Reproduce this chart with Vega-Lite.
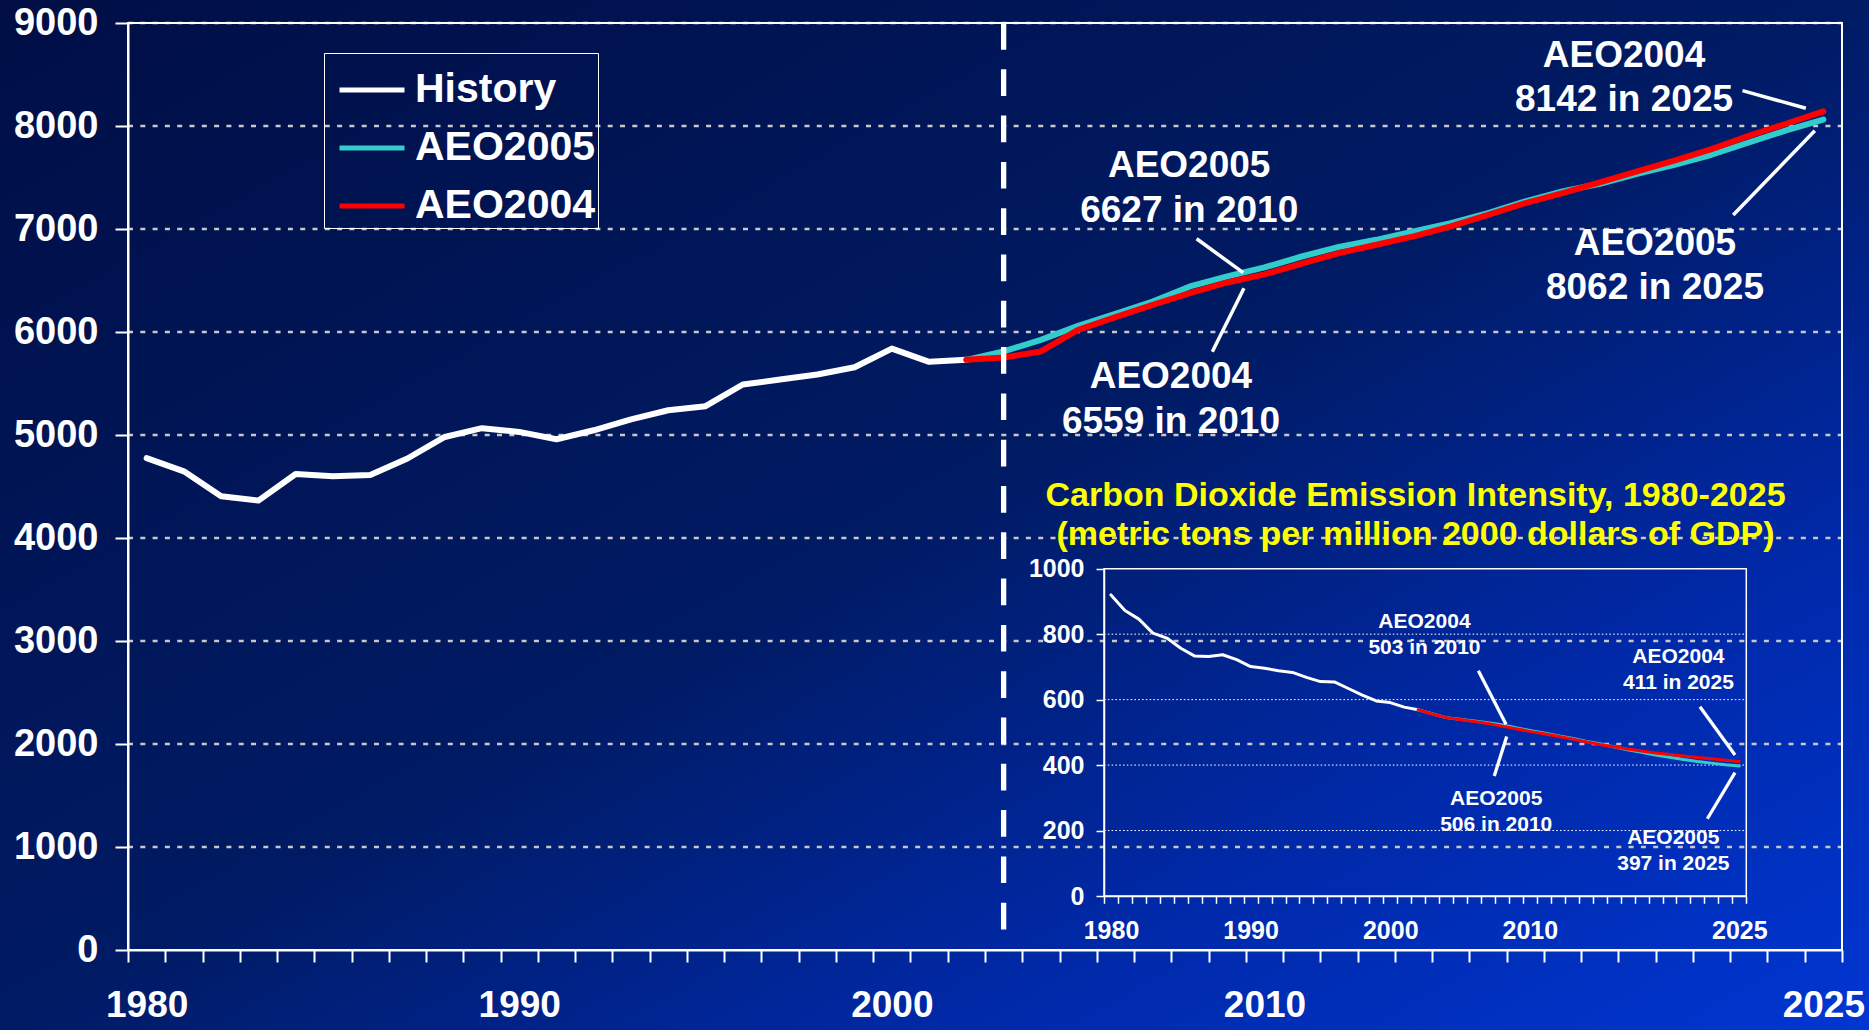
{
  "$schema": "https://vega.github.io/schema/vega-lite/v6.json",
  "width": 1714,
  "height": 927,
  "autosize": {"type": "none"},
  "padding": {"left": 128, "top": 23, "right": 27, "bottom": 80},
  "background": "#001A60",
  "config": {
    "view": {"stroke": null},
    "font": "Liberation Sans",
    "axis": {"zindex": 1, "labelFont": "Liberation Sans", "labelFontWeight": "bold", "labelColor": "#FFFFFF", "domainColor": "#FFFFFF", "tickColor": "#FFFFFF", "grid": false, "labelFlush": false, "labelOverlap": false, "labelBound": false}
  },
  "datasets": {
    "emissions": [
      {"year": 1980, "value": 4775, "series": "History"},
      {"year": 1981, "value": 4647, "series": "History"},
      {"year": 1982, "value": 4405, "series": "History"},
      {"year": 1983, "value": 4363, "series": "History"},
      {"year": 1984, "value": 4621, "series": "History"},
      {"year": 1985, "value": 4599, "series": "History"},
      {"year": 1986, "value": 4611, "series": "History"},
      {"year": 1987, "value": 4772, "series": "History"},
      {"year": 1988, "value": 4981, "series": "History"},
      {"year": 1989, "value": 5066, "series": "History"},
      {"year": 1990, "value": 5030, "series": "History"},
      {"year": 1991, "value": 4959, "series": "History"},
      {"year": 1992, "value": 5046, "series": "History"},
      {"year": 1993, "value": 5152, "series": "History"},
      {"year": 1994, "value": 5240, "series": "History"},
      {"year": 1995, "value": 5280, "series": "History"},
      {"year": 1996, "value": 5490, "series": "History"},
      {"year": 1997, "value": 5539, "series": "History"},
      {"year": 1998, "value": 5587, "series": "History"},
      {"year": 1999, "value": 5658, "series": "History"},
      {"year": 2000, "value": 5839, "series": "History"},
      {"year": 2001, "value": 5710, "series": "History"},
      {"year": 2002, "value": 5730, "series": "History"},
      {"year": 2002, "value": 5730, "series": "AEO2005"},
      {"year": 2003, "value": 5811, "series": "AEO2005"},
      {"year": 2004, "value": 5924, "series": "AEO2005"},
      {"year": 2005, "value": 6060, "series": "AEO2005"},
      {"year": 2006, "value": 6177, "series": "AEO2005"},
      {"year": 2007, "value": 6296, "series": "AEO2005"},
      {"year": 2008, "value": 6442, "series": "AEO2005"},
      {"year": 2009, "value": 6540, "series": "AEO2005"},
      {"year": 2010, "value": 6627, "series": "AEO2005"},
      {"year": 2011, "value": 6733, "series": "AEO2005"},
      {"year": 2012, "value": 6826, "series": "AEO2005"},
      {"year": 2013, "value": 6895, "series": "AEO2005"},
      {"year": 2014, "value": 6976, "series": "AEO2005"},
      {"year": 2015, "value": 7057, "series": "AEO2005"},
      {"year": 2016, "value": 7155, "series": "AEO2005"},
      {"year": 2017, "value": 7268, "series": "AEO2005"},
      {"year": 2018, "value": 7365, "series": "AEO2005"},
      {"year": 2019, "value": 7439, "series": "AEO2005"},
      {"year": 2020, "value": 7536, "series": "AEO2005"},
      {"year": 2021, "value": 7624, "series": "AEO2005"},
      {"year": 2022, "value": 7721, "series": "AEO2005"},
      {"year": 2023, "value": 7840, "series": "AEO2005"},
      {"year": 2024, "value": 7957, "series": "AEO2005"},
      {"year": 2025, "value": 8062, "series": "AEO2005"},
      {"year": 2002, "value": 5730, "series": "AEO2004"},
      {"year": 2003, "value": 5752, "series": "AEO2004"},
      {"year": 2004, "value": 5811, "series": "AEO2004"},
      {"year": 2005, "value": 6021, "series": "AEO2004"},
      {"year": 2006, "value": 6145, "series": "AEO2004"},
      {"year": 2007, "value": 6264, "series": "AEO2004"},
      {"year": 2008, "value": 6378, "series": "AEO2004"},
      {"year": 2009, "value": 6481, "series": "AEO2004"},
      {"year": 2010, "value": 6559, "series": "AEO2004"},
      {"year": 2011, "value": 6665, "series": "AEO2004"},
      {"year": 2012, "value": 6766, "series": "AEO2004"},
      {"year": 2013, "value": 6847, "series": "AEO2004"},
      {"year": 2014, "value": 6928, "series": "AEO2004"},
      {"year": 2015, "value": 7025, "series": "AEO2004"},
      {"year": 2016, "value": 7138, "series": "AEO2004"},
      {"year": 2017, "value": 7252, "series": "AEO2004"},
      {"year": 2018, "value": 7349, "series": "AEO2004"},
      {"year": 2019, "value": 7452, "series": "AEO2004"},
      {"year": 2020, "value": 7559, "series": "AEO2004"},
      {"year": 2021, "value": 7663, "series": "AEO2004"},
      {"year": 2022, "value": 7776, "series": "AEO2004"},
      {"year": 2023, "value": 7905, "series": "AEO2004"},
      {"year": 2024, "value": 8022, "series": "AEO2004"},
      {"year": 2025, "value": 8142, "series": "AEO2004"}
    ],
    "intensity": [
      {"year": 1980, "value": 920, "series": "History"},
      {"year": 1981, "value": 872, "series": "History"},
      {"year": 1982, "value": 846, "series": "History"},
      {"year": 1983, "value": 803, "series": "History"},
      {"year": 1984, "value": 788, "series": "History"},
      {"year": 1985, "value": 757, "series": "History"},
      {"year": 1986, "value": 733, "series": "History"},
      {"year": 1987, "value": 732, "series": "History"},
      {"year": 1988, "value": 737, "series": "History"},
      {"year": 1989, "value": 722, "series": "History"},
      {"year": 1990, "value": 701, "series": "History"},
      {"year": 1991, "value": 696, "series": "History"},
      {"year": 1992, "value": 688, "series": "History"},
      {"year": 1993, "value": 683, "series": "History"},
      {"year": 1994, "value": 668, "series": "History"},
      {"year": 1995, "value": 655, "series": "History"},
      {"year": 1996, "value": 654, "series": "History"},
      {"year": 1997, "value": 634, "series": "History"},
      {"year": 1998, "value": 614, "series": "History"},
      {"year": 1999, "value": 596, "series": "History"},
      {"year": 2000, "value": 591, "series": "History"},
      {"year": 2001, "value": 577, "series": "History"},
      {"year": 2002, "value": 569, "series": "History"},
      {"year": 2002, "value": 569, "series": "AEO2005"},
      {"year": 2003, "value": 557, "series": "AEO2005"},
      {"year": 2004, "value": 545, "series": "AEO2005"},
      {"year": 2005, "value": 540, "series": "AEO2005"},
      {"year": 2006, "value": 535, "series": "AEO2005"},
      {"year": 2007, "value": 529, "series": "AEO2005"},
      {"year": 2008, "value": 523, "series": "AEO2005"},
      {"year": 2009, "value": 514, "series": "AEO2005"},
      {"year": 2010, "value": 506, "series": "AEO2005"},
      {"year": 2011, "value": 498, "series": "AEO2005"},
      {"year": 2012, "value": 490, "series": "AEO2005"},
      {"year": 2013, "value": 482, "series": "AEO2005"},
      {"year": 2014, "value": 473, "series": "AEO2005"},
      {"year": 2015, "value": 465, "series": "AEO2005"},
      {"year": 2016, "value": 456, "series": "AEO2005"},
      {"year": 2017, "value": 447, "series": "AEO2005"},
      {"year": 2018, "value": 439, "series": "AEO2005"},
      {"year": 2019, "value": 431, "series": "AEO2005"},
      {"year": 2020, "value": 424, "series": "AEO2005"},
      {"year": 2021, "value": 417, "series": "AEO2005"},
      {"year": 2022, "value": 411, "series": "AEO2005"},
      {"year": 2023, "value": 406, "series": "AEO2005"},
      {"year": 2024, "value": 401, "series": "AEO2005"},
      {"year": 2025, "value": 397, "series": "AEO2005"},
      {"year": 2002, "value": 569, "series": "AEO2004"},
      {"year": 2003, "value": 556, "series": "AEO2004"},
      {"year": 2004, "value": 545, "series": "AEO2004"},
      {"year": 2005, "value": 539, "series": "AEO2004"},
      {"year": 2006, "value": 533, "series": "AEO2004"},
      {"year": 2007, "value": 527, "series": "AEO2004"},
      {"year": 2008, "value": 519, "series": "AEO2004"},
      {"year": 2009, "value": 511, "series": "AEO2004"},
      {"year": 2010, "value": 503, "series": "AEO2004"},
      {"year": 2011, "value": 496, "series": "AEO2004"},
      {"year": 2012, "value": 488, "series": "AEO2004"},
      {"year": 2013, "value": 480, "series": "AEO2004"},
      {"year": 2014, "value": 471, "series": "AEO2004"},
      {"year": 2015, "value": 463, "series": "AEO2004"},
      {"year": 2016, "value": 456, "series": "AEO2004"},
      {"year": 2017, "value": 449, "series": "AEO2004"},
      {"year": 2018, "value": 443, "series": "AEO2004"},
      {"year": 2019, "value": 437, "series": "AEO2004"},
      {"year": 2020, "value": 432, "series": "AEO2004"},
      {"year": 2021, "value": 428, "series": "AEO2004"},
      {"year": 2022, "value": 423, "series": "AEO2004"},
      {"year": 2023, "value": 419, "series": "AEO2004"},
      {"year": 2024, "value": 415, "series": "AEO2004"},
      {"year": 2025, "value": 411, "series": "AEO2004"}
    ],
    "mainLabels": [
      {"label": "AEO2004\n8142 in 2025", "year": 2019.65, "value": 8573},
      {"label": "AEO2005\n8062 in 2025", "year": 2020.48, "value": 6748},
      {"label": "AEO2005\n6627 in 2010", "year": 2007.98, "value": 7501},
      {"label": "AEO2004\n6559 in 2010", "year": 2007.49, "value": 5453}
    ],
    "mainLeaders": [
      {"year": 2022.83, "value": 8343, "year2": 2024.53, "value2": 8172},
      {"year": 2024.77, "value": 7954, "year2": 2022.58, "value2": 7136},
      {"year": 2008.18, "value": 6905, "year2": 2009.43, "value2": 6576},
      {"year": 2009.45, "value": 6424, "year2": 2008.6, "value2": 5809}
    ],
    "insetLabels": [
      {"label": "AEO2004\n503 in 2010", "year": 2002.45, "value": 818},
      {"label": "AEO2005\n506 in 2010", "year": 2007.59, "value": 278},
      {"label": "AEO2004\n411 in 2025", "year": 2020.64, "value": 713},
      {"label": "AEO2005\n397 in 2025", "year": 2020.27, "value": 159}
    ],
    "insetLeaders": [
      {"year": 2006.31, "value": 688, "year2": 2008.29, "value2": 525},
      {"year": 2008.34, "value": 487, "year2": 2007.45, "value2": 367},
      {"year": 2022.18, "value": 578, "year2": 2024.69, "value2": 431},
      {"year": 2024.69, "value": 377, "year2": 2022.71, "value2": 236}
    ],
    "mainGrid": [
      {"value": 1000}, {"value": 2000}, {"value": 3000}, {"value": 4000}, {"value": 5000},
      {"value": 6000}, {"value": 7000}, {"value": 8000}, {"value": 9000}
    ],
    "insetGrid": [
      {"value": 200}, {"value": 400}, {"value": 600}, {"value": 800}
    ]
  },
  "layer": [
    {
      "layer": [
        {
          "data": {"values": [{}]},
          "mark": {
            "type": "rect",
            "strokeWidth": 0,
            "fill": {
              "gradient": "linear",
              "x1": 0, "y1": 0, "x2": 1, "y2": 1,
              "stops": [
                {"offset": 0, "color": "#000E45"},
                {"offset": 0.5, "color": "#001B64"},
                {"offset": 0.75, "color": "#0029A8"},
                {"offset": 1, "color": "#0036D2"}
              ]
            }
          },
          "encoding": {
            "x": {"datum": 1975.98, "type": "quantitative"},
            "x2": {"datum": 2026.3},
            "y": {"datum": -806, "type": "quantitative"},
            "y2": {"datum": 9252}
          }
        },
        {
          "data": {"name": "mainGrid"},
          "mark": {"type": "rule", "color": "#C8C8C8", "strokeWidth": 2.5, "strokeDash": [5, 7.3]},
          "encoding": {
            "y": {"field": "value", "type": "quantitative"},
            "x": {"datum": 1979.5, "type": "quantitative"},
            "x2": {"datum": 2025.5}
          }
        },
        {
          "data": {"name": "emissions"},
          "mark": {"type": "line", "strokeWidth": 6, "strokeCap": "round", "strokeJoin": "round"},
          "encoding": {
            "x": {
              "field": "year", "type": "quantitative",
              "scale": {"domain": [1979.5, 2025.5], "nice": false, "zero": false},
              "axis": {"orient": "bottom", "zindex": 1, "title": null, "values": [1980, 1990, 2000, 2010, 2025], "format": "d", "ticks": false, "tickSize": 0, "domain": false, "labelPadding": 37.5, "labelFontSize": 37}
            },
            "y": {
              "field": "value", "type": "quantitative",
              "scale": {"domain": [0, 9000], "nice": false, "zero": false},
              "axis": {"orient": "left", "zindex": 1, "title": null, "values": [0, 1000, 2000, 3000, 4000, 5000, 6000, 7000, 8000, 9000], "format": "d", "tickSize": 13, "tickWidth": 2, "domainWidth": 2, "labelPadding": 17, "labelFontSize": 38}
            },
            "color": {
              "field": "series", "type": "nominal",
              "scale": {"domain": ["History", "AEO2005", "AEO2004"], "range": ["#FFFFFF", "#33CCCC", "#FF0000"]},
              "legend": {
                "title": null, "orient": "none", "legendX": 196, "legendY": 30,
                "symbolType": "stroke", "symbolSize": 4225, "symbolStrokeWidth": 5,
                "labelFontSize": 41, "labelFont": "Liberation Sans", "labelFontWeight": "bold", "labelColor": "#FFFFFF", "labelLimit": 400,
                "strokeColor": "#FFFFFF", "padding": 2, "symbolOffset": 11, "labelOffset": 8, "rowPadding": 3, "zindex": 1
              }
            }
          }
        },
        {
          "data": {"name": "mainLeaders"},
          "mark": {"type": "rule", "color": "#FFFFFF", "strokeWidth": 3.5},
          "encoding": {
            "x": {"field": "year", "type": "quantitative"},
            "y": {"field": "value", "type": "quantitative"},
            "x2": {"field": "year2"},
            "y2": {"field": "value2"}
          }
        },
        {
          "data": {"name": "mainLabels"},
          "mark": {"type": "text", "font": "Liberation Sans", "fontWeight": "bold", "fontSize": 37, "color": "#FFFFFF", "align": "center", "baseline": "alphabetic", "lineBreak": "\n", "lineHeight": 44.5},
          "encoding": {
            "x": {"field": "year", "type": "quantitative"},
            "y": {"field": "value", "type": "quantitative"},
            "text": {"field": "label"}
          }
        }
      ]
    },
    {
      "layer": [
        {
          "data": {"values": [{}]},
          "mark": {"type": "rect", "fill": "transparent", "stroke": "#FFFFFF", "strokeWidth": 2},
          "encoding": {
            "x": {
              "datum": 1979.5, "type": "quantitative",
              "scale": {"domain": [1979.5, 2025.5], "nice": false, "zero": false},
              "axis": {"orient": "bottom", "zindex": 1, "title": null, "tickCount": 200, "values": [1979.5, 1980.5, 1981.5, 1982.5, 1983.5, 1984.5, 1985.5, 1986.5, 1987.5, 1988.5, 1989.5, 1990.5, 1991.5, 1992.5, 1993.5, 1994.5, 1995.5, 1996.5, 1997.5, 1998.5, 1999.5, 2000.5, 2001.5, 2002.5, 2003.5, 2004.5, 2005.5, 2006.5, 2007.5, 2008.5, 2009.5, 2010.5, 2011.5, 2012.5, 2013.5, 2014.5, 2015.5, 2016.5, 2017.5, 2018.5, 2019.5, 2020.5, 2021.5, 2022.5, 2023.5, 2024.5, 2025.5], "labels": false, "ticks": true, "tickSize": 12, "tickWidth": 2, "domain": true, "domainWidth": 2}
            },
            "x2": {"datum": 2025.5},
            "y": {"datum": 0, "type": "quantitative", "scale": {"domain": [0, 9000], "nice": false, "zero": false}, "axis": null},
            "y2": {"datum": 9000}
          }
        },
        {
          "data": {"values": [{}]},
          "mark": {"type": "rule", "color": "#FFFFFF", "strokeWidth": 5.3, "strokeDash": [26.7, 19.6], "strokeDashOffset": 0},
          "encoding": {
            "x": {"datum": 2003, "type": "quantitative"},
            "y": {"datum": 9000, "type": "quantitative"},
            "y2": {"datum": 0}
          }
        }
      ]
    },
    {
      "layer": [
        {
          "data": {"name": "insetGrid"},
          "mark": {"type": "rule", "color": "#FFFFFF", "strokeWidth": 1, "strokeDash": [1.6, 2.2]},
          "encoding": {
            "y": {
              "field": "value", "type": "quantitative",
              "scale": {"domain": [0, 1000], "range": [873, 545.7], "nice": false, "zero": false},
              "axis": {"orient": "left", "zindex": 1, "offset": -976, "title": null, "values": [0, 200, 400, 600, 800, 1000], "format": "d", "tickSize": 8, "tickWidth": 1.5, "domainWidth": 1.5, "labelPadding": 12, "labelFontSize": 25}
            },
            "x": {
              "datum": 1979.5, "type": "quantitative",
              "scale": {"domain": [1979.5, 2025.5], "range": [976, 1618.3], "nice": false, "zero": false},
              "axis": {"orient": "bottom", "zindex": 1, "offset": -54, "title": null, "values": [1980, 1990, 2000, 2010, 2025], "format": "d", "ticks": false, "tickSize": 0, "domain": false, "labelPadding": 22.5, "labelFontSize": 25}
            },
            "x2": {"datum": 2025.5}
          }
        },
        {
          "data": {"name": "intensity"},
          "mark": {"type": "line", "strokeWidth": 3, "strokeCap": "round", "strokeJoin": "round"},
          "encoding": {
            "x": {"field": "year", "type": "quantitative"},
            "y": {"field": "value", "type": "quantitative"},
            "color": {"field": "series", "type": "nominal", "legend": null}
          }
        },
        {
          "data": {"name": "insetLeaders"},
          "mark": {"type": "rule", "color": "#FFFFFF", "strokeWidth": 3.3},
          "encoding": {
            "x": {"field": "year", "type": "quantitative"},
            "y": {"field": "value", "type": "quantitative"},
            "x2": {"field": "year2"},
            "y2": {"field": "value2"}
          }
        },
        {
          "data": {"name": "insetLabels"},
          "mark": {"type": "text", "font": "Liberation Sans", "fontWeight": "bold", "fontSize": 21, "color": "#FFFFFF", "align": "center", "baseline": "alphabetic", "lineBreak": "\n", "lineHeight": 26},
          "encoding": {
            "x": {"field": "year", "type": "quantitative"},
            "y": {"field": "value", "type": "quantitative"},
            "text": {"field": "label"}
          }
        },
        {
          "data": {"values": [{"label": "Carbon Dioxide Emission Intensity, 1980-2025\n(metric tons per million 2000 dollars of GDP)", "year": 2001.81, "value": 1193}]},
          "mark": {"type": "text", "font": "Liberation Sans", "fontWeight": "bold", "fontSize": 34, "color": "#FFFF00", "align": "center", "baseline": "alphabetic", "lineBreak": "\n", "lineHeight": 39},
          "encoding": {
            "x": {"field": "year", "type": "quantitative"},
            "y": {"field": "value", "type": "quantitative"},
            "text": {"field": "label"}
          }
        }
      ]
    },
    {
      "layer": [
        {
          "data": {"values": [{}]},
          "mark": {"type": "rect", "fill": "transparent", "stroke": "#FFFFFF", "strokeWidth": 1.5},
          "encoding": {
            "x": {
              "datum": 1979.5, "type": "quantitative",
              "scale": {"domain": [1979.5, 2025.5], "range": [976, 1618.3], "nice": false, "zero": false},
              "axis": {"orient": "bottom", "zindex": 1, "offset": -54, "title": null, "tickCount": 200, "values": [1979.5, 1980.5, 1981.5, 1982.5, 1983.5, 1984.5, 1985.5, 1986.5, 1987.5, 1988.5, 1989.5, 1990.5, 1991.5, 1992.5, 1993.5, 1994.5, 1995.5, 1996.5, 1997.5, 1998.5, 1999.5, 2000.5, 2001.5, 2002.5, 2003.5, 2004.5, 2005.5, 2006.5, 2007.5, 2008.5, 2009.5, 2010.5, 2011.5, 2012.5, 2013.5, 2014.5, 2015.5, 2016.5, 2017.5, 2018.5, 2019.5, 2020.5, 2021.5, 2022.5, 2023.5, 2024.5, 2025.5], "labels": false, "ticks": true, "tickSize": 7.3, "tickWidth": 1.5, "domain": true, "domainWidth": 1.5}
            },
            "x2": {"datum": 2025.5},
            "y": {"datum": 0, "type": "quantitative", "scale": {"domain": [0, 1000], "range": [873, 545.7], "nice": false, "zero": false}, "axis": null},
            "y2": {"datum": 1000}
          }
        }
      ]
    }
  ],
  "resolve": {"scale": {"x": "independent", "y": "independent"}}
}
